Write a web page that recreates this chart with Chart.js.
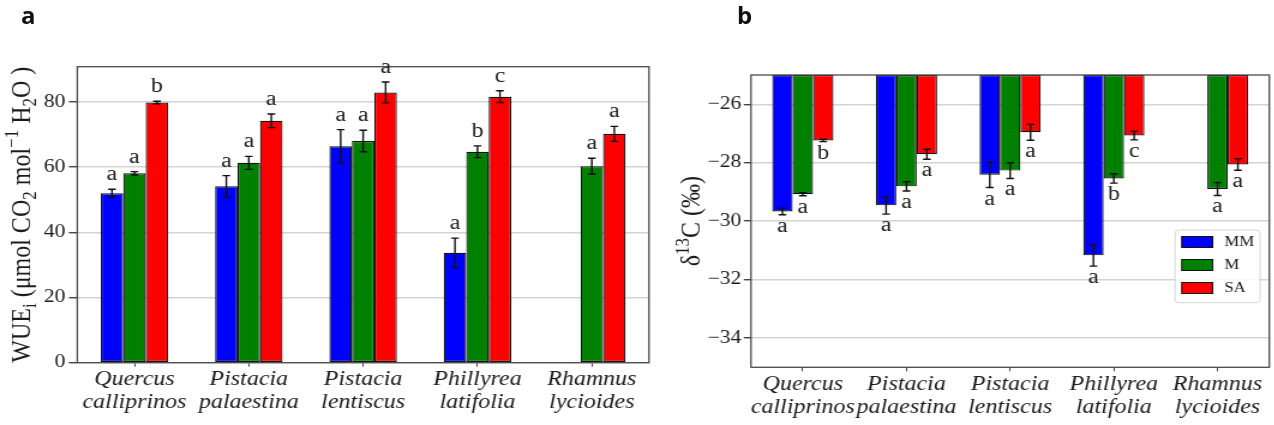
<!DOCTYPE html>
<html><head><meta charset="utf-8">
<script src="https://cdn.jsdelivr.net/npm/chart.js@4/dist/chart.umd.min.js"></script>
<style>
html,body{margin:0;padding:0;background:#fff;width:1274px;height:425px;overflow:hidden;}
.wrap{position:absolute;top:0;height:425px;transform-origin:0 0;transform:scaleX(1.2);}
#wa{left:0;width:550px;}
#wb{left:660px;width:512px;}
canvas{display:block;}
.panel{position:absolute;font-family:"Open Sans";font-weight:700;font-size:24px;line-height:1;color:#111;}
</style></head><body>
<div class="wrap" id="wa"><canvas id="ca" width="550" height="425"></canvas></div>
<div class="wrap" id="wb"><canvas id="cb" width="512" height="425"></canvas></div>
<div class="panel" style="left:21px;top:3px">a</div>
<div class="panel" style="left:737px;top:3px">b</div>
<script>
// ---- data ----
const categories = [['Quercus','calliprinos'],['Pistacia','palaestina'],['Pistacia','lentiscus'],['Phillyrea','latifolia'],['Rhamnus','lycioides']];
const seriesNames = ['MM','M','SA'];

const wueMM = [52.0, 54.1, 66.4, 33.7, null];
const wueM  = [58.1, 61.3, 68.0, 64.7, 60.3];
const wueSA = [79.8, 74.2, 82.9, 81.6, 70.2];
const wueErrMM = [1.2, 3.3, 5.1, 4.5, null];
const wueErrM  = [0.5, 2.0, 3.3, 1.8, 2.4];
const wueErrSA = [0.4, 2.1, 3.2, 1.8, 2.3];
const wueLetMM = ['a','a','a','a',''];
const wueLetM  = ['a','a','a','b','a'];
const wueLetSA = ['b','a','a','c','a'];
const wueTicks = [0, 20, 40, 60, 80];

const d13MM = [-29.67, -29.46, -28.41, -31.17, null];
const d13M  = [-29.08, -28.81, -28.27, -28.54, -28.90];
const d13SA = [-27.24, -27.71, -26.96, -27.07, -28.06];
const d13ErrMM = [0.11, 0.30, 0.44, 0.37, null];
const d13ErrM  = [0.05, 0.16, 0.27, 0.16, 0.22];
const d13ErrSA = [0.04, 0.17, 0.27, 0.15, 0.20];
const d13LetMM = ['a','a','a','a',''];
const d13LetM  = ['a','a','a','b','a'];
const d13LetSA = ['b','a','a','c','a'];
const d13Ticks = [-34, -32, -30, -28, -26];

// ---- styles ----
const colors = ['#0000ff', '#008000', '#ff0000'];
const SERIF = "Liberation Serif";
const TXT = '#1a1a1a';
Chart.defaults.font.family = SERIF;

function mkDatasets(vals, errs, lets, base) {
  return vals.map((v, i) => {
    const d = {
      label: seriesNames[i], data: v, errors: errs[i], letters: lets[i],
      backgroundColor: colors[i], borderColor: '#111', borderWidth: 1.2,
      borderSkipped: false, categoryPercentage: 0.59, barPercentage: 1.0
    };
    if (base !== undefined) d.base = base;
    return d;
  });
}

const framePlugin = {
  id: 'frame',
  afterDatasetsDraw(chart) {
    const a = chart.chartArea, ctx = chart.ctx;
    ctx.save();
    ctx.strokeStyle = '#4a4a4a'; ctx.lineWidth = 1.3;
    ctx.strokeRect(a.left, a.top, a.right - a.left, a.bottom - a.top);
    ctx.restore();
  }
};

const errPlugin = {
  id: 'errbars',
  afterDatasetsDraw(chart, args, opts) {
    const ctx = chart.ctx, ys = chart.scales.y;
    chart.data.datasets.forEach((ds, i) => {
      const meta = chart.getDatasetMeta(i);
      meta.data.forEach((bar, j) => {
        const v = ds.data[j];
        if (v == null) return;
        const e = ds.errors[j] || 0;
        const x = bar.x;
        const yA = ys.getPixelForValue(v - e), yB = ys.getPixelForValue(v + e);
        const yTop = Math.min(yA, yB), yBot = Math.max(yA, yB);
        ctx.save();
        ctx.strokeStyle = '#111'; ctx.lineWidth = 1.4;
        ctx.beginPath();
        ctx.moveTo(x, yTop); ctx.lineTo(x, yBot);
        ctx.moveTo(x - 3.2, yTop); ctx.lineTo(x + 3.2, yTop);
        ctx.moveTo(x - 3.2, yBot); ctx.lineTo(x + 3.2, yBot);
        ctx.stroke();
        const L = ds.letters[j];
        if (L) {
          ctx.fillStyle = TXT;
          ctx.font = '20px "' + SERIF + '"';
          ctx.textAlign = 'center'; ctx.textBaseline = 'alphabetic';
          if (opts.above) ctx.fillText(L, x, yTop - 9);
          else ctx.fillText(L, x, yBot + 17);
        }
        ctx.restore();
      });
    });
  }
};

function drawRich(ctx, parts, cx, cy, size) {
  const small = Math.round(size * 0.7);
  let total = 0;
  const m = parts.map(([t, k]) => {
    ctx.font = (k === 'n' ? size : small) + 'px "' + SERIF + '"';
    const w = ctx.measureText(t).width; total += w; return w;
  });
  ctx.save();
  ctx.translate(cx, cy);
  ctx.rotate(-Math.PI / 2);
  ctx.fillStyle = TXT; ctx.textBaseline = 'alphabetic'; ctx.textAlign = 'left';
  let x = -total / 2;
  parts.forEach(([t, k], i) => {
    ctx.font = (k === 'n' ? size : small) + 'px "' + SERIF + '"';
    const dy = k === 'sub' ? size * 0.22 : (k === 'sup' ? -size * 0.38 : 0);
    ctx.fillText(t, x, dy);
    x += m[i];
  });
  ctx.restore();
}

function titlePlugin(parts, xOff, size) {
  return {
    id: 'ytitle',
    afterDraw(chart) {
      const a = chart.chartArea;
      drawRich(chart.ctx, parts, xOff, (a.top + a.bottom) / 2, size);
    }
  };
}

const legendPlugin = {
  id: 'customLegend',
  afterDraw(chart) {
    const ctx = chart.ctx, a = chart.chartArea;
    const bx = a.right - 78.5, by = a.bottom - 137.3, bw = 70.8, bh = 72.7;
    ctx.save();
    ctx.fillStyle = 'rgba(255,255,255,0.85)';
    ctx.strokeStyle = '#d6d6d6'; ctx.lineWidth = 1;
    ctx.beginPath();
    ctx.roundRect(bx, by, bw, bh, 3);
    ctx.fill(); ctx.stroke();
    chart.data.datasets.forEach((ds, i) => {
      const cy = by + 12 + i * 23;
      ctx.fillStyle = ds.backgroundColor;
      ctx.fillRect(bx + 5.5, cy - 5.5, 25.8, 11);
      ctx.strokeStyle = '#111'; ctx.lineWidth = 1;
      ctx.strokeRect(bx + 5.5, cy - 5.5, 25.8, 11);
      ctx.fillStyle = TXT;
      ctx.font = '14px "' + SERIF + '"';
      ctx.textAlign = 'left'; ctx.textBaseline = 'middle';
      ctx.fillText(ds.label, bx + 41, cy + 0.5);
    });
    ctx.restore();
  }
};

function makeChart(canvasId, opt) {
  return new Chart(document.getElementById(canvasId), {
    type: 'bar',
    data: { labels: categories, datasets: opt.datasets },
    options: {
      responsive: false, animation: false, devicePixelRatio: 1,
      layout: { padding: { left: 0, top: opt.top, right: opt.right, bottom: 0 } },
      plugins: { legend: { display: false }, tooltip: { enabled: false }, errbars: { above: opt.above } },
      scales: {
        x: {
          offset: true,
          grid: { offset: false, drawOnChartArea: false, drawTicks: true, tickLength: 4, tickColor: '#444', lineWidth: 1 },
          border: { display: false },
          ticks: { color: TXT, font: { family: SERIF, size: 20, style: 'italic', lineHeight: 1.15 }, padding: 2, maxRotation: 0, autoSkip: false },
          afterFit: s => { s.height = opt.xh; }
        },
        y: {
          min: opt.min, max: opt.max,
          afterBuildTicks: s => { s.ticks = opt.ticks.map(v => ({ value: v })); },
          grid: { color: '#d4d4d4', lineWidth: 1.4, tickColor: '#444', tickLength: opt.tl, drawTicks: true },
          border: { display: false },
          ticks: { color: TXT, font: { family: SERIF, size: 18 }, padding: opt.tp,
                   callback: v => (v < 0 ? '\u2212' + Math.abs(v) : '' + v) },
          afterFit: s => { s.width = opt.yw; }
        }
      }
    },
    plugins: [framePlugin, errPlugin, titlePlugin(opt.title, opt.titleX, 24)].concat(opt.extra || [])
  });
}

makeChart('ca', {
  datasets: mkDatasets([wueMM, wueM, wueSA], [wueErrMM, wueErrM, wueErrSA], [wueLetMM, wueLetM, wueLetSA]),
  top: 66.7, right: 9.2, xh: 425 - 362.7, yw: 64.4, min: 0, max: 90.8, ticks: wueTicks,
  tl: 7, tp: 3, above: true,
  title: [['WUE', 'n'], ['i', 'sub'], [' (\u03bcmol CO', 'n'], ['2', 'sub'], [' mol', 'n'], ['\u22121', 'sup'], [' H', 'n'], ['2', 'sub'], ['O )', 'n']],
  titleX: 24.5
});

makeChart('cb', {
  datasets: mkDatasets([d13MM, d13M, d13SA], [d13ErrMM, d13ErrM, d13ErrSA], [d13LetMM, d13LetM, d13LetSA], -25),
  top: 75, right: 4.25, xh: 425 - 367.3, yw: 75.8, min: -35, max: -25, ticks: d13Ticks,
  tl: 6, tp: 2, above: false,
  title: [['\u03b4', 'n'], ['13', 'sup'], ['C (\u2030)', 'n']],
  titleX: 33,
  extra: [legendPlugin]
});
</script>
</body></html>
